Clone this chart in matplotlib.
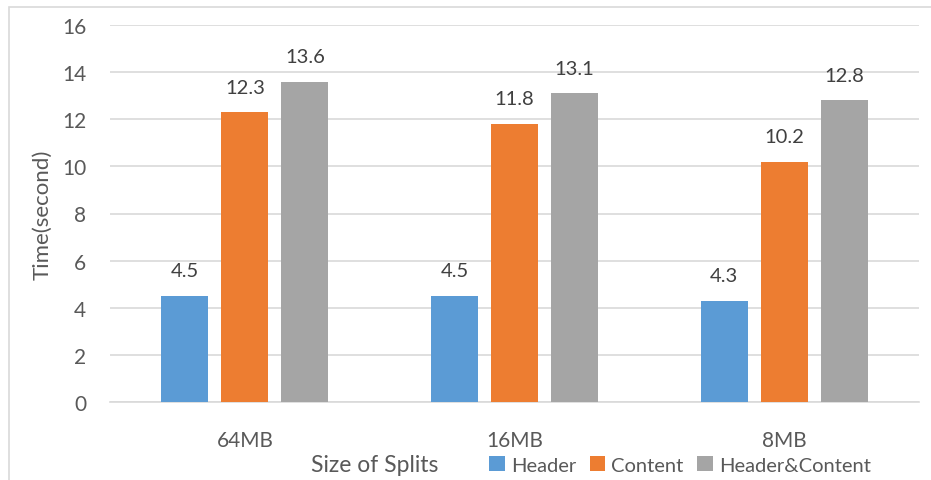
import numpy as np
import matplotlib.pyplot as plt
from matplotlib.patches import Rectangle

plt.rc('font', family=['Lato', 'DejaVu Sans'])

categories = ['64MB', '16MB', '8MB']
header = [4.5, 4.5, 4.3]
content = [12.3, 11.8, 10.2]
header_content = [13.6, 13.1, 12.8]
series_names = ['Header', 'Content', 'Header&Content']
colors = ['#5b9bd5', '#ed7d31', '#a5a5a5']
yticks = [0, 2, 4, 6, 8, 10, 12, 14, 16]

text_color = '#595959'
grid_color = '#d9d9d9'

fig = plt.figure(figsize=(9.31, 4.81), dpi=100)
ax = fig.add_axes([110 / 931, 1 - 403 / 481, 809 / 931, 377 / 481])

x = np.arange(len(categories))
step = 0.2225
width = 0.174
for j, (vals, name, c) in enumerate(zip([header, content, header_content], series_names, colors)):
    pos = x + (j - 1) * step
    ax.bar(pos, vals, width=width, color=c, label=name, zorder=3)
    for p, v in zip(pos, vals):
        ax.annotate(f'{v}', (p, v), xytext=(0, 12), textcoords='offset points',
                    ha='center', va='bottom', fontsize=14.5, color='#404040')

ax.set_xlim(-0.5, 2.5)
ax.set_ylim(0, 16)
ax.set_yticks(yticks)
ax.set_xticks(x)
ax.set_xticklabels(categories)
ax.tick_params(axis='both', length=0, labelsize=15, colors=text_color)
ax.tick_params(axis='x', pad=20)
ax.tick_params(axis='y', pad=17)
ax.yaxis.grid(True, color=grid_color, linewidth=1.2, zorder=0)
ax.set_axisbelow(True)
for s in ['top', 'right', 'left']:
    ax.spines[s].set_visible(False)
ax.spines['bottom'].set_color(grid_color)
ax.spines['bottom'].set_linewidth(1.2)

fig.text(42 / 931, 1 - 215 / 481, 'Time(second)', rotation=90, ha='center', va='center',
         fontsize=16, color=text_color)
fig.text(375 / 931, 1 - 466 / 481, 'Size of Splits', ha='center', va='center',
         fontsize=16.5, color=text_color)

handles, labels = ax.get_legend_handles_labels()
fig.legend(handles, labels, loc='center', bbox_to_anchor=(680 / 931, 1 - 466 / 481), ncol=3,
           frameon=False, fontsize=14.5, labelcolor=text_color, handlelength=0.75,
           handleheight=0.75, handletextpad=0.3, columnspacing=0.7, borderaxespad=0)

# outer chart border (cut at right and bottom in the reference)
fig.add_artist(Rectangle((9 / 931, -0.1), 1.1, 1 - 8 / 481 + 0.1, transform=fig.transFigure,
                         fill=False, edgecolor='#d9d9d9', linewidth=1.2))

fig.savefig('out.png', dpi=100)
